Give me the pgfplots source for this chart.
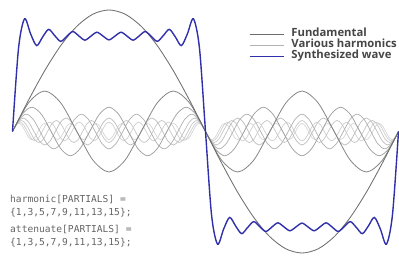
\documentclass[border=0pt]{standalone}
\usepackage{fontspec}
\setmainfont{Open Sans}
\newfontfamily\codefont{DejaVu Sans Mono}
\usepackage{pgfplots}
\pgfplotsset{compat=1.18}
\definecolor{synth}{RGB}{48,48,170}
\definecolor{fund}{RGB}{110,110,110}
\definecolor{legtxt}{RGB}{70,70,70}
\definecolor{codetxt}{RGB}{100,100,100}
\begin{document}
\begin{tikzpicture}
\useasboundingbox (-12.5pt,-2pt) rectangle (386.5pt,253pt);
\begin{axis}[
  at={(0pt,0pt)}, anchor=south west,
  scale only axis, width=386pt, height=243pt,
  xmin=0, xmax=360, ymin=-1, ymax=1,
  hide axis, clip=false,
  every axis plot/.append style={smooth, no markers},
  legend image code/.code={\draw[#1] (0pt,0pt) -- (34pt,0pt); \path (41pt,0pt);},
  legend style={at={(axis cs:220.6,0.8486)}, anchor=north west,
    draw=none, fill=none, inner sep=0pt, outer sep=0pt, row sep=0pt,
    font=\bfseries\fontsize{11.3}{13}\selectfont\color{legtxt},
    nodes={inner sep=0pt, text height=8pt, text depth=3.3pt}},
  legend cell align=left,
]
% harmonic 15
\addplot[forget plot, color=black!16, line width=0.7pt] coordinates {
(0,0)(3,0.0471)(6,0.0667)(9,0.0471)(12,0)(15,-0.0471)(18,-0.0667)(21,-0.0471)
(24,0)(27,0.0471)(30,0.0667)(33,0.0471)(36,0)(39,-0.0471)(42,-0.0667)(45,-0.0471)
(48,0)(51,0.0471)(54,0.0667)(57,0.0471)(60,0)(63,-0.0471)(66,-0.0667)(69,-0.0471)
(72,0)(75,0.0471)(78,0.0667)(81,0.0471)(84,0)(87,-0.0471)(90,-0.0667)(93,-0.0471)
(96,0)(99,0.0471)(102,0.0667)(105,0.0471)(108,0)(111,-0.0471)(114,-0.0667)(117,-0.0471)
(120,0)(123,0.0471)(126,0.0667)(129,0.0471)(132,0)(135,-0.0471)(138,-0.0667)(141,-0.0471)
(144,0)(147,0.0471)(150,0.0667)(153,0.0471)(156,0)(159,-0.0471)(162,-0.0667)(165,-0.0471)
(168,0)(171,0.0471)(174,0.0667)(177,0.0471)(180,0)(183,-0.0471)(186,-0.0667)(189,-0.0471)
(192,0)(195,0.0471)(198,0.0667)(201,0.0471)(204,0)(207,-0.0471)(210,-0.0667)(213,-0.0471)
(216,0)(219,0.0471)(222,0.0667)(225,0.0471)(228,0)(231,-0.0471)(234,-0.0667)(237,-0.0471)
(240,0)(243,0.0471)(246,0.0667)(249,0.0471)(252,0)(255,-0.0471)(258,-0.0667)(261,-0.0471)
(264,0)(267,0.0471)(270,0.0667)(273,0.0471)(276,0)(279,-0.0471)(282,-0.0667)(285,-0.0471)
(288,0)(291,0.0471)(294,0.0667)(297,0.0471)(300,0)(303,-0.0471)(306,-0.0667)(309,-0.0471)
(312,0)(315,0.0471)(318,0.0667)(321,0.0471)(324,0)(327,-0.0471)(330,-0.0667)(333,-0.0471)
(336,0)(339,0.0471)(342,0.0667)(345,0.0471)(348,0)(351,-0.0471)(354,-0.0667)(357,-0.0471)
(360,0)};
% harmonic 13
\addplot[forget plot, color=black!19, line width=0.7pt] coordinates {
(0,0)(3.46,0.0544)(6.92,0.0769)(10.38,0.0544)(13.85,0)(17.31,-0.0544)(20.77,-0.0769)(24.23,-0.0544)
(27.69,0)(31.15,0.0544)(34.62,0.0769)(38.08,0.0544)(41.54,0)(45,-0.0544)(48.46,-0.0769)(51.92,-0.0544)
(55.38,0)(58.85,0.0544)(62.31,0.0769)(65.77,0.0544)(69.23,0)(72.69,-0.0544)(76.15,-0.0769)(79.62,-0.0544)
(83.08,0)(86.54,0.0544)(90,0.0769)(93.46,0.0544)(96.92,0)(100.38,-0.0544)(103.85,-0.0769)(107.31,-0.0544)
(110.77,0)(114.23,0.0544)(117.69,0.0769)(121.15,0.0544)(124.62,0)(128.08,-0.0544)(131.54,-0.0769)(135,-0.0544)
(138.46,0)(141.92,0.0544)(145.38,0.0769)(148.85,0.0544)(152.31,0)(155.77,-0.0544)(159.23,-0.0769)(162.69,-0.0544)
(166.15,0)(169.62,0.0544)(173.08,0.0769)(176.54,0.0544)(180,0)(183.46,-0.0544)(186.92,-0.0769)(190.38,-0.0544)
(193.85,0)(197.31,0.0544)(200.77,0.0769)(204.23,0.0544)(207.69,0)(211.15,-0.0544)(214.62,-0.0769)(218.08,-0.0544)
(221.54,0)(225,0.0544)(228.46,0.0769)(231.92,0.0544)(235.38,0)(238.85,-0.0544)(242.31,-0.0769)(245.77,-0.0544)
(249.23,0)(252.69,0.0544)(256.15,0.0769)(259.62,0.0544)(263.08,0)(266.54,-0.0544)(270,-0.0769)(273.46,-0.0544)
(276.92,0)(280.38,0.0544)(283.85,0.0769)(287.31,0.0544)(290.77,0)(294.23,-0.0544)(297.69,-0.0769)(301.15,-0.0544)
(304.62,0)(308.08,0.0544)(311.54,0.0769)(315,0.0544)(318.46,0)(321.92,-0.0544)(325.38,-0.0769)(328.85,-0.0544)
(332.31,0)(335.77,0.0544)(339.23,0.0769)(342.69,0.0544)(346.15,0)(349.62,-0.0544)(353.08,-0.0769)(356.54,-0.0544)
(360,0)};
% harmonic 11
\addplot[forget plot, color=black!22, line width=0.7pt] coordinates {
(0,0)(4.09,0.0643)(8.18,0.0909)(12.27,0.0643)(16.36,0)(20.45,-0.0643)(24.55,-0.0909)(28.64,-0.0643)
(32.73,0)(36.82,0.0643)(40.91,0.0909)(45,0.0643)(49.09,0)(53.18,-0.0643)(57.27,-0.0909)(61.36,-0.0643)
(65.45,0)(69.55,0.0643)(73.64,0.0909)(77.73,0.0643)(81.82,0)(85.91,-0.0643)(90,-0.0909)(94.09,-0.0643)
(98.18,0)(102.27,0.0643)(106.36,0.0909)(110.45,0.0643)(114.55,0)(118.64,-0.0643)(122.73,-0.0909)(126.82,-0.0643)
(130.91,0)(135,0.0643)(139.09,0.0909)(143.18,0.0643)(147.27,0)(151.36,-0.0643)(155.45,-0.0909)(159.55,-0.0643)
(163.64,0)(167.73,0.0643)(171.82,0.0909)(175.91,0.0643)(180,0)(184.09,-0.0643)(188.18,-0.0909)(192.27,-0.0643)
(196.36,0)(200.45,0.0643)(204.55,0.0909)(208.64,0.0643)(212.73,0)(216.82,-0.0643)(220.91,-0.0909)(225,-0.0643)
(229.09,0)(233.18,0.0643)(237.27,0.0909)(241.36,0.0643)(245.45,0)(249.55,-0.0643)(253.64,-0.0909)(257.73,-0.0643)
(261.82,0)(265.91,0.0643)(270,0.0909)(274.09,0.0643)(278.18,0)(282.27,-0.0643)(286.36,-0.0909)(290.45,-0.0643)
(294.55,0)(298.64,0.0643)(302.73,0.0909)(306.82,0.0643)(310.91,0)(315,-0.0643)(319.09,-0.0909)(323.18,-0.0643)
(327.27,0)(331.36,0.0643)(335.45,0.0909)(339.55,0.0643)(343.64,0)(347.73,-0.0643)(351.82,-0.0909)(355.91,-0.0643)
(360,0)};
% harmonic 9
\addplot[forget plot, color=black!26, line width=0.7pt] coordinates {
(0,0)(5,0.0786)(10,0.1111)(15,0.0786)(20,0)(25,-0.0786)(30,-0.1111)(35,-0.0786)
(40,0)(45,0.0786)(50,0.1111)(55,0.0786)(60,0)(65,-0.0786)(70,-0.1111)(75,-0.0786)
(80,0)(85,0.0786)(90,0.1111)(95,0.0786)(100,0)(105,-0.0786)(110,-0.1111)(115,-0.0786)
(120,0)(125,0.0786)(130,0.1111)(135,0.0786)(140,0)(145,-0.0786)(150,-0.1111)(155,-0.0786)
(160,0)(165,0.0786)(170,0.1111)(175,0.0786)(180,0)(185,-0.0786)(190,-0.1111)(195,-0.0786)
(200,0)(205,0.0786)(210,0.1111)(215,0.0786)(220,0)(225,-0.0786)(230,-0.1111)(235,-0.0786)
(240,0)(245,0.0786)(250,0.1111)(255,0.0786)(260,0)(265,-0.0786)(270,-0.1111)(275,-0.0786)
(280,0)(285,0.0786)(290,0.1111)(295,0.0786)(300,0)(305,-0.0786)(310,-0.1111)(315,-0.0786)
(320,0)(325,0.0786)(330,0.1111)(335,0.0786)(340,0)(345,-0.0786)(350,-0.1111)(355,-0.0786)
(360,0)};
% harmonic 7
\addplot[forget plot, color=black!31, line width=0.7pt] coordinates {
(0,0)(6.43,0.101)(12.86,0.1429)(19.29,0.101)(25.71,0)(32.14,-0.101)(38.57,-0.1429)(45,-0.101)
(51.43,0)(57.86,0.101)(64.29,0.1429)(70.71,0.101)(77.14,0)(83.57,-0.101)(90,-0.1429)(96.43,-0.101)
(102.86,0)(109.29,0.101)(115.71,0.1429)(122.14,0.101)(128.57,0)(135,-0.101)(141.43,-0.1429)(147.86,-0.101)
(154.29,0)(160.71,0.101)(167.14,0.1429)(173.57,0.101)(180,0)(186.43,-0.101)(192.86,-0.1429)(199.29,-0.101)
(205.71,0)(212.14,0.101)(218.57,0.1429)(225,0.101)(231.43,0)(237.86,-0.101)(244.29,-0.1429)(250.71,-0.101)
(257.14,0)(263.57,0.101)(270,0.1429)(276.43,0.101)(282.86,0)(289.29,-0.101)(295.71,-0.1429)(302.14,-0.101)
(308.57,0)(315,0.101)(321.43,0.1429)(327.86,0.101)(334.29,0)(340.71,-0.101)(347.14,-0.1429)(353.57,-0.101)
(360,0)};
% harmonic 5
\addplot[forget plot, color=black!37, line width=0.75pt] coordinates {
(0,0)(9,0.1414)(18,0.2)(27,0.1414)(36,0)(45,-0.1414)(54,-0.2)(63,-0.1414)
(72,0)(81,0.1414)(90,0.2)(99,0.1414)(108,0)(117,-0.1414)(126,-0.2)(135,-0.1414)
(144,0)(153,0.1414)(162,0.2)(171,0.1414)(180,0)(189,-0.1414)(198,-0.2)(207,-0.1414)
(216,0)(225,0.1414)(234,0.2)(243,0.1414)(252,0)(261,-0.1414)(270,-0.2)(279,-0.1414)
(288,0)(297,0.1414)(306,0.2)(315,0.1414)(324,0)(333,-0.1414)(342,-0.2)(351,-0.1414)
(360,0)};
% harmonic 3
\addplot[forget plot, color=black!48, line width=0.8pt] coordinates {
(0,0)(15,0.2357)(30,0.3333)(45,0.2357)(60,0)(75,-0.2357)(90,-0.3333)(105,-0.2357)
(120,0)(135,0.2357)(150,0.3333)(165,0.2357)(180,0)(195,-0.2357)(210,-0.3333)(225,-0.2357)
(240,0)(255,0.2357)(270,0.3333)(285,0.2357)(300,0)(315,-0.2357)(330,-0.3333)(345,-0.2357)
(360,0)};
% fundamental
\addplot[forget plot, color=fund, line width=0.85pt] coordinates {
(0,0)(15,0.2588)(30,0.5)(45,0.7071)(60,0.866)(75,0.9659)(90,1)(105,0.9659)(120,0.866)(135,0.7071)(150,0.5)(165,0.2588)
(180,0)(195,-0.2588)(210,-0.5)(225,-0.7071)(240,-0.866)(255,-0.9659)(270,-1)(285,-0.9659)(300,-0.866)(315,-0.7071)(330,-0.5)(345,-0.2588)(360,0)};
% synthesized wave
\addplot[forget plot, color=synth, line width=1.4pt] coordinates {
(0,0)(5.625,0.6857)(11.25,0.927)(16.875,0.8039)(22.5,0.707)(28.125,0.7783)(33.75,0.8406)(39.375,0.789)(45,0.7417)(50.625,0.7834)(56.25,0.8227)(61.875,0.7866)(67.5,0.7518)(73.125,0.7848)(78.75,0.8171)(84.375,0.7856)(90,0.7543)(95.625,0.7856)(101.25,0.8171)(106.875,0.7848)(112.5,0.7518)(118.125,0.7866)(123.75,0.8227)(129.375,0.7834)(135,0.7417)(140.625,0.789)(146.25,0.8406)(151.875,0.7783)(157.5,0.707)(163.125,0.8039)(168.75,0.927)(174.375,0.6857)(180,0)
(185.625,-0.6857)(191.25,-0.927)(196.875,-0.8039)(202.5,-0.707)(208.125,-0.7783)(213.75,-0.8406)(219.375,-0.789)(225,-0.7417)(230.625,-0.7834)(236.25,-0.8227)(241.875,-0.7866)(247.5,-0.7518)(253.125,-0.7848)(258.75,-0.8171)(264.375,-0.7856)(270,-0.7543)(275.625,-0.7856)(281.25,-0.8171)(286.875,-0.7848)(292.5,-0.7518)(298.125,-0.7866)(303.75,-0.8227)(309.375,-0.7834)(315,-0.7417)(320.625,-0.789)(326.25,-0.8406)(331.875,-0.7783)(337.5,-0.707)(343.125,-0.8039)(348.75,-0.927)(354.375,-0.6857)(360,0)};
\addlegendimage{color=fund, line width=0.85pt}
\addlegendentry{Fundamental}
\addlegendimage{color=black!30, line width=0.8pt}
\addlegendentry{Various harmonics}
\addlegendimage{color=synth, line width=1.4pt}
\addlegendentry{Synthesized wave}
\end{axis}
\begin{scope}[every node/.style={anchor=base west, inner sep=0pt, text=codetxt, font=\codefont\fontsize{9.6}{11}\selectfont}]
\node at (-2.5pt,50.5pt) {harmonic[PARTIALS] =};
\node at (-2.5pt,37.5pt) {\{1,3,5,7,9,11,13,15\};};
\node at (-2.5pt,20.5pt) {attenuate[PARTIALS] =};
\node at (-2.5pt,7.5pt) {\{1,3,5,7,9,11,13,15\};};
\end{scope}
\end{tikzpicture}
\end{document}
